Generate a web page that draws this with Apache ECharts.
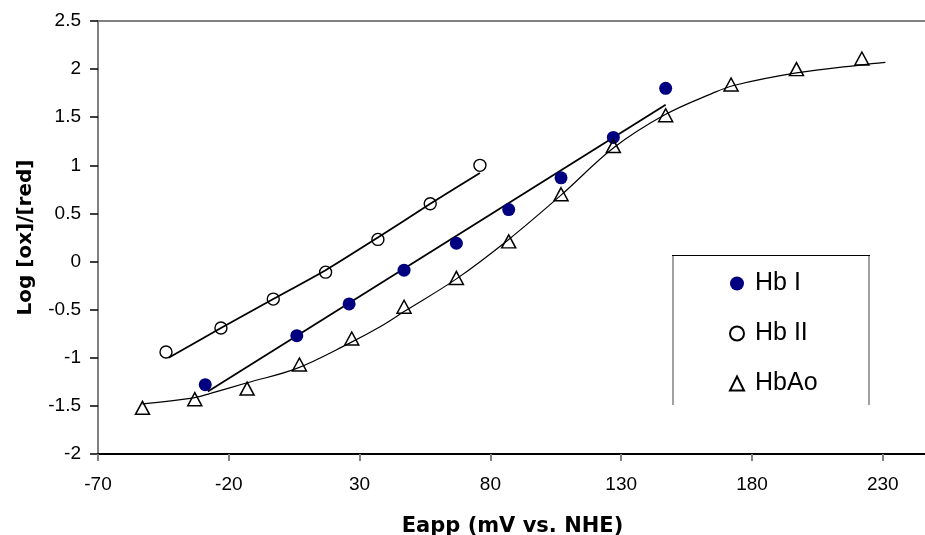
<!DOCTYPE html>
<html>
<head>
<meta charset="utf-8">
<script src="https://cdn.jsdelivr.net/npm/echarts@6/dist/echarts.min.js"></script>
<style>
html,body{margin:0;padding:0;background:#fff;overflow:hidden;}
#chart{width:925px;height:535px;}
</style>
</head>
<body>
<div id="chart"></div>
<script>
// Measured points
var hb1X = [-29, 6, 26, 47, 67, 87, 107, 127, 147];
var hb1Y = [-1.28, -0.77, -0.44, -0.09, 0.19, 0.54, 0.87, 1.29, 1.8];

var hb2X = [-44, -23, -3, 17, 37, 57, 76];
var hb2Y = [-0.94, -0.69, -0.39, -0.11, 0.23, 0.6, 1.0];

var hbAoX = [-53, -33, -13, 7, 27, 47, 67, 87, 107, 127, 147, 172, 197, 222];
var hbAoY = [-1.52, -1.43, -1.32, -1.07, -0.8, -0.47, -0.17, 0.21, 0.7, 1.2, 1.52, 1.84, 2.0, 2.11];

// Fitted lines / curve
var hb1FitX = [-28, 147];
var hb1FitY = [-1.35, 1.63];

var hb2FitX = [-43, -23, -3, 17, 37, 57, 76];
var hb2FitY = [-1.0, -0.69, -0.39, -0.09, 0.25, 0.6, 0.92];

var aoFitX = [-53, -34, -27, -13, 6, 26, 38, 47, 67, 87, 107, 127, 147, 165, 173, 197, 222, 231];
var aoFitY = [-1.48, -1.42, -1.37, -1.26, -1.11, -0.85, -0.675, -0.52, -0.18, 0.23, 0.69, 1.18, 1.53, 1.75, 1.83, 1.96, 2.045, 2.07];

var seriesNames = ['Hb I', 'Hb II', 'HbAo'];
var xTitle = 'Eapp (mV vs. NHE)';
var yTitle = 'Log [ox]/[red]';

function pairs(xs, ys) { return xs.map(function (x, i) { return [x, ys[i]]; }); }

var chart = echarts.init(document.getElementById('chart'));
var FONT = 'Liberation Sans, Arial, sans-serif';

chart.setOption({
  animation: false,
  backgroundColor: '#fff',
  grid: {
    left: 98, right: -2, top: 21, bottom: 81,
    containLabel: false,
    outerBoundsMode: 'none',
    show: true, borderColor: '#808080', borderWidth: 2, backgroundColor: 'transparent'
  },
  xAxis: {
    type: 'value',
    min: -70, max: 246.9, interval: 50,
    splitLine: { show: false },
    axisLine: { show: true, onZero: false, lineStyle: { color: '#000', width: 2 } },
    axisTick: { show: true, length: 7, lineStyle: { color: '#808080', width: 2 } },
    axisLabel: { show: true, showMaxLabel: false, margin: 21, fontSize: 19, color: '#000', fontFamily: FONT },
    name: xTitle,
    nameLocation: 'middle',
    nameGap: 62,
    nameTextStyle: { fontSize: 21, fontWeight: 'bold', color: '#000', fontFamily: 'DejaVu Sans' }
  },
  yAxis: {
    type: 'value',
    min: -2, max: 2.5, interval: 0.5,
    splitLine: { show: false },
    axisLine: { show: true, onZero: false, lineStyle: { color: '#808080', width: 2 } },
    axisTick: { show: true, length: 8, lineStyle: { color: '#000', width: 1.5 } },
    axisLabel: { margin: 17, fontSize: 19, color: '#000', fontFamily: FONT },
    name: yTitle,
    nameLocation: 'middle',
    nameGap: 62,
    nameTextStyle: { fontSize: 20, fontWeight: 'bold', color: '#000', fontFamily: 'DejaVu Sans' }
  },
  legend: {
    data: seriesNames,
    orient: 'vertical',
    left: 729, top: 271,
    itemWidth: 14, itemHeight: 14, itemGap: 25,
    padding: 0,
    textStyle: { fontSize: 25, color: '#000', fontFamily: FONT, padding: [0, 0, 0, 6] }
  },
  graphic: [
    { type: 'line', shape: { x1: 673, y1: 255, x2: 673, y2: 405 }, style: { stroke: '#a0a0a0', lineWidth: 2 } },
    { type: 'line', shape: { x1: 869, y1: 255, x2: 869, y2: 405 }, style: { stroke: '#a0a0a0', lineWidth: 2 } },
    { type: 'line', shape: { x1: 672, y1: 255.5, x2: 870, y2: 255.5 }, style: { stroke: '#000', lineWidth: 1.2 } }
  ],
  series: [
    {
      name: 'aoFit', type: 'line', data: pairs(aoFitX, aoFitY),
      symbol: 'none', smooth: 0.35, z: 2,
      lineStyle: { color: '#000', width: 1.2 }
    },
    {
      name: 'hb1Fit', type: 'line', data: pairs(hb1FitX, hb1FitY),
      symbol: 'none', z: 2,
      lineStyle: { color: '#000', width: 1.8 }
    },
    {
      name: 'hb2Fit', type: 'line', data: pairs(hb2FitX, hb2FitY),
      symbol: 'none', smooth: 0.2, z: 2,
      lineStyle: { color: '#000', width: 1.8 }
    },
    {
      name: seriesNames[0], type: 'scatter', data: pairs(hb1X, hb1Y),
      symbol: 'circle', symbolSize: 13, z: 3,
      itemStyle: { color: '#000080', opacity: 1 }
    },
    {
      name: seriesNames[1], type: 'scatter', data: pairs(hb2X, hb2Y),
      symbol: 'circle', symbolSize: 12, z: 3,
      itemStyle: { color: 'rgba(255,255,255,0)', borderColor: '#000', borderWidth: 1.4, opacity: 1 }
    },
    {
      name: seriesNames[2], type: 'scatter', data: pairs(hbAoX, hbAoY),
      symbol: 'triangle', symbolSize: [14, 13], z: 3,
      itemStyle: { color: 'rgba(255,255,255,0)', borderColor: '#000', borderWidth: 1.5, opacity: 1 }
    }
  ]
});
</script>
</body>
</html>
